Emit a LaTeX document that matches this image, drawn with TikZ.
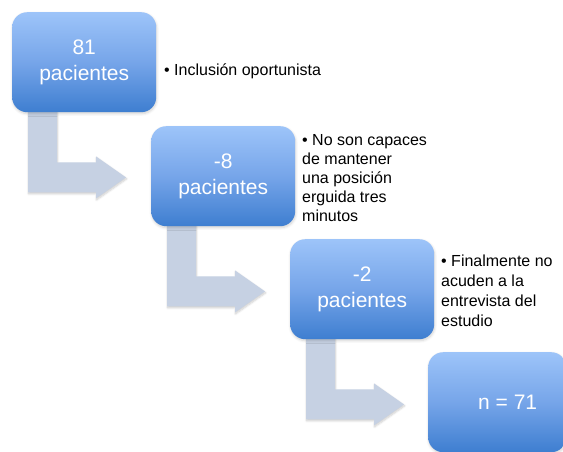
\documentclass[tikz,border=0pt]{standalone}
\usepackage{fontspec}
\setmainfont{Liberation Sans}
\usetikzlibrary{shadows.blur,backgrounds}
\definecolor{boxtop}{RGB}{157,196,249}
\definecolor{boxmid}{RGB}{118,165,233}
\definecolor{boxbot}{RGB}{62,126,208}
\definecolor{arrowc}{RGB}{198,209,227}
\tikzset{
  stepbox/.style={rounded corners=15pt, top color=boxtop, bottom color=boxbot, middle color=boxmid,
    draw=none, minimum width=144pt, minimum height=100pt, anchor=north west, inner sep=0pt,
    text=white, align=center, font=\fontsize{21}{26}\selectfont,
    blur shadow={shadow xshift=0.5pt, shadow yshift=-1.5pt, shadow blur steps=6, shadow blur radius=2.5pt, shadow opacity=18}},
  bendarrow/.style={fill=arrowc, draw=none,
    blur shadow={shadow xshift=0.5pt, shadow yshift=-1.5pt, shadow blur steps=6, shadow blur radius=2pt, shadow opacity=20}},
  note/.style={inner sep=0pt, align=left, text=black, font=\fontsize{16}{19}\selectfont}
}
\begin{document}
\begin{tikzpicture}[x=1pt,y=-1pt]
\useasboundingbox (0,0) rectangle (563,451);
\clip (0,0) rectangle (563,451);
% boxes
\node[stepbox] (b1) at (12,12) {81\\pacientes};
\node[stepbox] (b2) at (151,126) {-8\\pacientes};
\node[stepbox] (b3) at (290,239) {-2\\pacientes};
\node[stepbox, minimum width=138pt] (b4) at (428,352) {\hspace*{21pt}n = 71};
% notes
\node[note, anchor=base west] (t1) at (164,75.7) {• Inclusión oportunista};
\node[note, anchor=north west] (t2) at (302,129) {\rule{0pt}{16pt}• No son capaces\\de mantener\\una posición\\erguida tres\\minutos};
\node[note, anchor=north west, font=\fontsize{16}{20}\selectfont] (t3) at (441,250.7) {\rule{0pt}{16pt}• Finalmente no\\acuden a la\\entrevista del\\estudio};
% bent arrows
\begin{scope}[on background layer]
\foreach \b in {b1,b2,b3}{
  \fill[bendarrow, shift={(\b.south west)}]
    (16,-8) -- (45,-8) -- (45,50) -- (84,50) -- (84,44) -- (114,65) -- (84,86) -- (84,80) -- (16,80) -- cycle;
}
\end{scope}
\end{tikzpicture}
\end{document}
